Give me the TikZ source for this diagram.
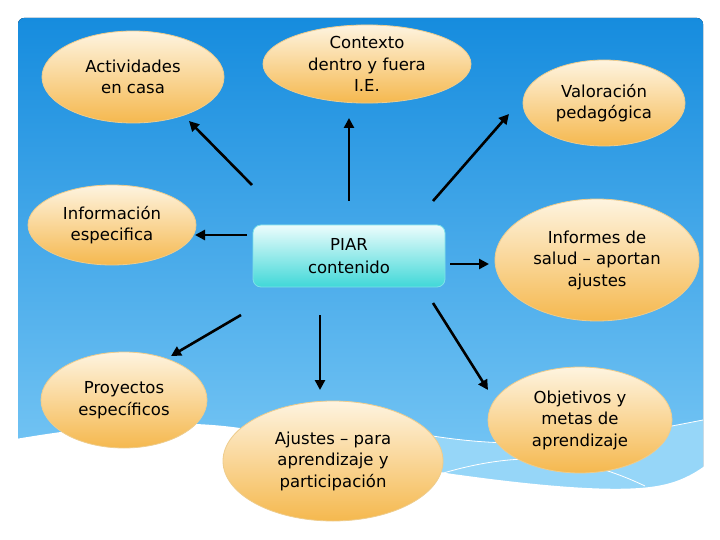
\documentclass[tikz,border=0pt]{standalone}
\usepackage{fontspec}
\setmainfont{DejaVu Sans}
\usetikzlibrary{shapes.geometric,arrows.meta}
\definecolor{bgtop}{RGB}{22,140,222}
\definecolor{bgbot}{RGB}{125,202,246}
\definecolor{eltop}{RGB}{254,244,224}
\definecolor{elbot}{RGB}{245,184,78}
\definecolor{elline}{RGB}{238,204,140}
\definecolor{bxtop}{RGB}{236,252,252}
\definecolor{bxbot}{RGB}{64,216,216}
\definecolor{bxline}{RGB}{125,225,232}
\definecolor{bandcol}{RGB}{150,214,248}
\begin{document}
\begin{tikzpicture}[x=1pt,y=-1pt,
  bubble/.style={ellipse, top color=eltop, bottom color=elbot, draw=elline,
    line width=0.8pt, align=center, inner sep=0pt,
    font=\fontsize{16.5}{21.5}\selectfont},
  piarbox/.style={rectangle, rounded corners=8pt, top color=bxtop, bottom color=bxbot,
    draw=bxline, line width=0.8pt, align=center, inner sep=0pt,
    minimum width=192pt, minimum height=62pt,
    font=\fontsize{16.5}{23}\selectfont},
  arr/.style={-{Triangle[length=10pt,width=10pt]}, line width=2.6pt, black}]
\useasboundingbox (0,0) rectangle (720,540);
% background
\fill[top color=bgtop, bottom color=bgbot, rounded corners=6pt] (18,18) rectangle (703,500);
\fill[bandcol] (400,430) .. controls (520,455) and (600,440) .. (703,420) -- (703,500) -- (400,500) -- cycle;
\draw[white, line width=0.8pt] (400,430) .. controls (520,455) and (600,440) .. (703,420);
\draw[white, line width=0.8pt] (440,474) .. controls (520,450) and (580,455) .. (645,486);
\fill[white] (10,440) .. controls (90,426) and (170,418) .. (240,428)
  .. controls (320,440) and (390,466) .. (460,475)
  .. controls (540,486) and (610,492) .. (650,487)
  .. controls (675,484) and (692,476) .. (710,462) -- (710,545) -- (10,545) -- cycle;
% nodes
\node[bubble, minimum width=182pt, minimum height=92pt] (act) at (133,77) {Actividades\\en casa};
\node[bubble, minimum width=208pt, minimum height=78pt] (ctx) at (367,64) {Contexto\\dentro y fuera\\I.E.};
\node[bubble, minimum width=162pt, minimum height=86pt] (val) at (604,103) {Valoración\\pedagógica};
\node[bubble, minimum width=168pt, minimum height=80pt] (inf) at (112,225) {Información\\especifica};
\node[piarbox] (piar) at (349,256) {PIAR\\contenido};
\node[bubble, minimum width=204pt, minimum height=122pt] (sal) at (597,260) {Informes de\\salud – aportan\\ajustes};
\node[bubble, minimum width=166pt, minimum height=96pt] (pro) at (124,400) {Proyectos\\específicos};
\node[bubble, minimum width=220pt, minimum height=120pt] (aju) at (333,461) {Ajustes – para\\aprendizaje y\\participación};
\node[bubble, minimum width=184pt, minimum height=106pt] (obj) at (580,420) {Objetivos y\\metas de\\aprendizaje};
% arrow ends
\coordinate (t1) at (252,185); \coordinate (h1) at (189,121);
\coordinate (t2) at (349,201); \coordinate (h2) at (349,118);
\coordinate (t3) at (247,235); \coordinate (h3) at (195,235);
\coordinate (t4) at (433,201); \coordinate (h4) at (509,114);
\coordinate (t5) at (450,264); \coordinate (h5) at (489,264);
\coordinate (t6) at (241,315); \coordinate (h6) at (171,356);
\coordinate (t7) at (320,315); \coordinate (h7) at (320,390);
\coordinate (t8) at (433,303); \coordinate (h8) at (488,390);
\draw[arr] (t1) -- (h1);
\draw[arr] (t2) -- (h2);
\draw[arr] (t3) -- (h3);
\draw[arr] (t4) -- (h4);
\draw[arr] (t5) -- (h5);
\draw[arr] (t6) -- (h6);
\draw[arr] (t7) -- (h7);
\draw[arr] (t8) -- (h8);
\end{tikzpicture}
\end{document}
